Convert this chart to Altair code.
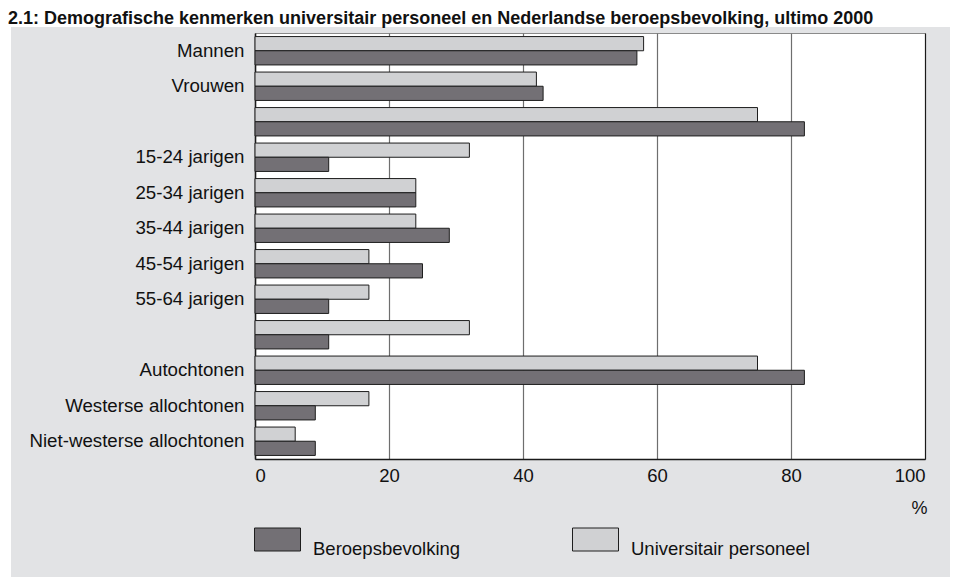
import altair as alt
import pandas as pd

# ---- data ----
categories = ["Mannen", "Vrouwen", "_1", "15-24 jarigen", "25-34 jarigen",
              "35-44 jarigen", "45-54 jarigen", "55-64 jarigen", "_2",
              "Autochtonen", "Westerse allochtonen", "Niet-westerse allochtonen"]
universitair = [58, 42, 75, 32, 24, 24, 17, 17, 32, 75, 17, 6]
beroeps = [57, 43, 82, 11, 24, 29, 25, 11, 11, 82, 9, 9]
series = ["Beroepsbevolking", "Universitair personeel"]
series_colors = ["#737075", "#d0d1d3"]
x_ticks = [0, 20, 40, 60, 80, 100]
title_text = ("2.1: Demografische kenmerken universitair personeel en "
              "Nederlandse beroepsbevolking, ultimo 2000")

rows = []
for c, u, b in zip(categories, universitair, beroeps):
    rows.append({"cat": c, "serie": series[1], "val": u})
    rows.append({"cat": c, "serie": series[0], "val": b})
df = pd.DataFrame(rows)
tdf = pd.DataFrame({"t": [title_text]})

FONT = "Liberation Sans"
DARK = "#1a1a1a"

bars = alt.Chart(df).mark_bar(stroke="#1e1e1e", strokeWidth=1).encode(
    y=alt.Y("cat:N", sort=categories,
            scale=alt.Scale(paddingInner=0.2, paddingOuter=0.1),
            axis=alt.Axis(title=None,
                          labelExpr="indexof(datum.label,'_')==0 ? '' : datum.label",
                          ticks=False, labelPadding=11, labelFontSize=18.7,
                          labelFont=FONT, labelColor="#111", labelLimit=0,
                          domainColor=DARK, domainWidth=1.5, grid=False)),
    yOffset=alt.YOffset("serie:N", sort=[series[1], series[0]]),
    x=alt.X("val:Q", scale=alt.Scale(domain=[0, 100], nice=False),
            axis=alt.Axis(values=x_ticks, title="%", ticks=False,
                          labelPadding=7, labelFontSize=18.5, labelFont=FONT,
                          labelColor="#111", domainColor=DARK, domainWidth=1.5,
                          grid=True, gridWidth=1.2,
                          gridColor={"condition": {"test": "datum.value === 100",
                                                   "value": DARK},
                                     "value": "#6e6e6e"},
                          titleX=664, titleY=49, titleAlign="center",
                          titleBaseline="middle", titleFontWeight="normal",
                          titleFontSize=18, titleFont=FONT, titleColor="#111")),
    fill=alt.Fill("serie:N",
                  scale=alt.Scale(domain=series, range=series_colors),
                  legend=alt.Legend(title=None, orient="none", legendX=-1,
                                    legendY=483, direction="horizontal",
                                    symbolType="M-1,-0.5H1V0.5H-1Z",
                                    symbolSize=2116, symbolStrokeColor="#1e1e1e",
                                    symbolStrokeWidth=1, symbolOpacity=1,
                                    labelFontSize=18.5, labelFont=FONT,
                                    labelColor="#111", labelOffset=12,
                                    labelLimit=0,
                                    labelBaseline="top", columnPadding=109,
                                    padding=0)),
)

strip_top = alt.Chart(tdf).mark_rect(color="white").encode(
    x=alt.value(-247), x2=alt.value(695), y=alt.value(-25), y2=alt.value(-6))
strip_left = alt.Chart(tdf).mark_rect(color="white").encode(
    x=alt.value(-247), x2=alt.value(-244), y=alt.value(-25), y2=alt.value(544))

title = alt.Chart(tdf).mark_text(align="left", baseline="alphabetic", font=FONT,
                                 fontSize=18, fontWeight="bold",
                                 color="#111").encode(
    x=alt.value(-247), y=alt.value(-9.5), text="t:N")

chart = alt.layer(strip_top, strip_left, bars, title).properties(
    width=670, height=426,
    autosize=alt.AutoSizeParams(type="none"),
    padding={"left": 247, "top": 25, "right": 25, "bottom": 118},
).configure(background="#e2e3e5").configure_view(
    fill="white", stroke="#8a8a8a", strokeWidth=1)

chart.save("out.html", embed_options={"renderer": "svg", "actions": False})
